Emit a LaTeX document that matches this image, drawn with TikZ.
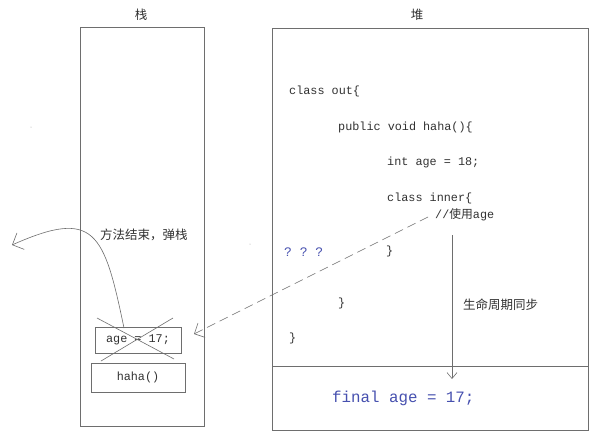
\documentclass[tikz,border=0pt]{standalone}
\usepackage{fontspec}
\setmonofont{Liberation Mono}
\newfontfamily\cjk{Noto Sans CJK SC}
\usetikzlibrary{arrows.meta}
\definecolor{linegray}{RGB}{110,110,110}
\definecolor{textgray}{RGB}{50,50,50}
\definecolor{codeblue}{RGB}{70,80,175}
\tikzset{
  panel/.style={draw=linegray, line width=0.7pt, fill=none},
  code/.style={anchor=west, inner sep=0pt, font=\ttfamily\fontsize{11.8}{13}\selectfont, text=textgray},
  cjklabel/.style={inner sep=0pt, font=\cjk\fontsize{12.5}{14}\selectfont, text=textgray},
  framebox/.style={draw=linegray, line width=0.6pt, inner sep=0pt, font=\ttfamily\fontsize{11.8}{13}\selectfont, text=textgray},
  conn/.style={draw=linegray, line width=0.6pt},
  barb/.style={-{Straight Barb[length=9pt,width=18pt]}},
  smallbarb/.style={-{Straight Barb[length=6pt,width=10pt]}}
}
\begin{document}
\begin{tikzpicture}[x=1pt,y=-1pt]
\useasboundingbox (0,0) rectangle (600,442);
\fill[white] (0,0) rectangle (600,442);
% panels
\node[panel, minimum width=124pt, minimum height=399pt, anchor=north west, inner sep=0pt] (stack) at (80,27) {};
\node[panel, minimum width=316pt, minimum height=402pt, anchor=north west, inner sep=0pt] (heap) at (272,28) {};
\coordinate (divL) at (272,366);
\coordinate (divR) at (588,366);
\draw[conn, line width=0.7pt] (divL) -- (divR);
\node[cjklabel] (stacklabel) at (141,15) {栈};
\node[cjklabel] (heaplabel) at (417,15) {堆};
% code
\node[code] (c1) at (289,91) {class out\{};
\node[code] (c2) at (338,127) {public void haha()\{};
\node[code] (c3) at (387,162) {int age = 18;};
\node[code] (c4) at (387,198) {class inner\{};
\node[code] (c5) at (435,215) {//{\cjk 使用}age};
\node[code, text=codeblue, font=\ttfamily\fontsize{13}{14}\selectfont] (qs) at (284,252) {? ? ?};
\node[code] (b1) at (386,251) {\}};
\node[code] (b2) at (338,303) {\}};
\node[code] (b3) at (289,338) {\}};
\node[cjklabel, anchor=west] (sync) at (463,305) {生命周期同步};
\node[code, text=codeblue, font=\ttfamily\fontsize{15.8}{17}\selectfont] (final) at (332,398) {final age = 17;};
% stack frames
\node[framebox, minimum width=86pt, minimum height=26pt] (agebox) at (138,340) {age = 17;};
\node[framebox, minimum width=94pt, minimum height=29pt] (hahabox) at (138,377.5) {haha()};
\coordinate (x1a) at (97,318);
\coordinate (x1b) at (174,359);
\coordinate (x2a) at (101,361);
\coordinate (x2b) at (173,318);
\draw[conn] (x1a) -- (x1b);
\draw[conn] (x2a) -- (x2b);
\node[cjklabel, anchor=west] (pop) at (100,235) {方法结束，弹栈};
% pop curve
\coordinate (popstart) at (124,328);
\coordinate (popend) at (12,245);
\draw[conn, barb] (popstart) .. controls (104,232) and (95,208) .. (popend);
% dashed reference arrow
\coordinate (dstart) at (428,217);
\coordinate (dend) at (194,334);
\draw[conn, barb, dashed, dash pattern=on 9pt off 5pt, -{Straight Barb[length=8pt,width=16pt]}] (dstart) -- (dend);
% lifecycle arrow
\coordinate (vstart) at (452,235);
\coordinate (vend) at (452,379);
\draw[conn, smallbarb] (vstart) -- (vend);
% tiny specks
\fill[linegray!60] (31,127) circle (0.5pt);
\fill[linegray!60] (250,244) circle (0.5pt);
\end{tikzpicture}
\end{document}
